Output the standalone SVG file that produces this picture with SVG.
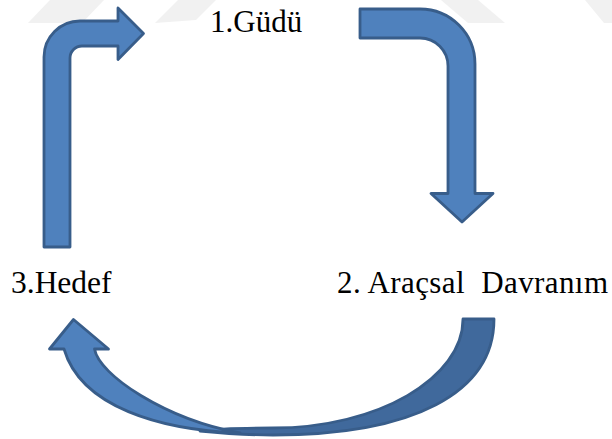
<svg xmlns="http://www.w3.org/2000/svg" width="612" height="439" viewBox="0 0 612 439">
<defs>
<style>
.arw{fill:#4F81BD;stroke:#385D8A;stroke-width:2.8;stroke-linejoin:round}
.back{fill:#40699C;stroke:#385D8A;stroke-width:2.8;stroke-linejoin:round}
.wm{fill:#f1f1f1}
</style>
</defs>
<rect width="612" height="439" fill="#fff"/>
<g id="watermark">
<polygon class="wm" points="28,23 50,0 104,0 82,23"/>
<polygon class="wm" points="155,23 178,0 216,0 196,20"/>
<polygon class="wm" points="441,0 478,0 505,23 468,23"/>
<polygon class="wm" points="585,0 612,0 612,23 604,23"/>
</g>
<g id="connectors">
<path id="arrow-3-1" class="arw" d="M44,247 L44,57 A36,36 0 0 1 80,21 L118,21 L118,8 L143.5,33.5 L118,59.5 L118,46 L82,46 A12,12 0 0 0 70,58 L70,247 Z"/>
<path id="arrow-1-2" class="arw" d="M360,9 L420,9 A55,55 0 0 1 475,64 L475,193.5 L493,193.5 L462,222 L431,193.5 L448,193.5 L448,66 A28,28 0 0 0 420,38 L360,38 Z"/>
<g id="arrow-2-3">
<path class="back" d="M463,319 L494,319 C494,393 413,435 273,435 C245,435 220,433 200,431 C222,428 250,428 273,428 C378,428 463,378 463,319 Z"/>
<path class="arw" d="M64,349 L49.5,349 L73.5,319.5 L108.5,349 L94.5,349 C99,375 165,419 240,433 C160,430 81,407 64,349 Z"/>
</g>
</g>
<g id="node-1"><text x="210" y="32" font-family="Liberation Serif" font-size="31" style="font-family:'Liberation Serif',serif">1.Güdü</text></g>
<g id="node-2"><text x="337" y="293" font-family="Liberation Serif" font-size="31" textLength="271" lengthAdjust="spacing" style="font-family:'Liberation Serif',serif;white-space:pre">2. Araçsal  Davranım</text></g>
<g id="node-3"><text x="11" y="293" font-family="Liberation Serif" font-size="31.5" style="font-family:'Liberation Serif',serif">3.Hedef</text></g>
</svg>
